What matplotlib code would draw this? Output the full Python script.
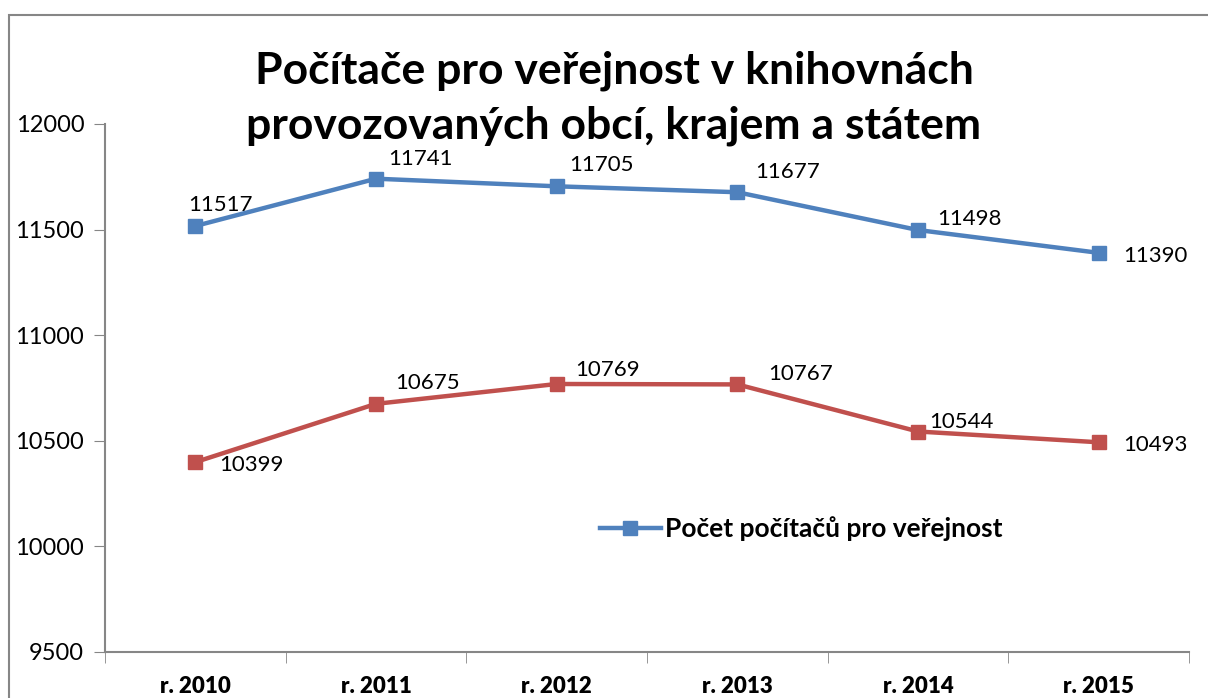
import numpy as np
import matplotlib
matplotlib.use('Agg')
import matplotlib.pyplot as plt
from matplotlib.patches import Rectangle

years = ['r. 2010', 'r. 2011', 'r. 2012', 'r. 2013', 'r. 2014', 'r. 2015']
verejnost = [11517, 11741, 11705, 11677, 11498, 11390]
druha = [10399, 10675, 10769, 10767, 10544, 10493]
yticks = [9500, 10000, 10500, 11000, 11500, 12000]

# label offsets in pixels (dx to left edge, dy up)
off_blue = [(-7, 21), (12, 20), (13, 21), (18, 20), (19, 11), (25, -3)]
off_red = [(24, -3), (19, 21), (19, 14), (31, 10), (11, 10), (25, -3)]

plt.rcParams['font.family'] = ['Lato', 'DejaVu Sans']

fig = plt.figure(figsize=(12.08, 6.98), dpi=100)
ax = fig.add_axes([105/1208, 46/698, (1189-105)/1208, (652-124)/698])

x = np.arange(len(years))
blue = '#4F81BD'
red = '#C0504D'
grey = '#868686'

ax.plot(x, verejnost, color=blue, lw=3.2, marker='s', ms=10, label='Počet počítačů pro veřejnost')
ax.plot(x, druha, color=red, lw=3.2, marker='s', ms=10)

for xi, v, (dx, dy) in zip(x, verejnost, off_blue):
    ax.annotate(str(v), (xi, v), xytext=(dx, dy), textcoords='offset pixels',
                ha='left', va='center', fontsize=16)
for xi, v, (dx, dy) in zip(x, druha, off_red):
    ax.annotate(str(v), (xi, v), xytext=(dx, dy), textcoords='offset pixels',
                ha='left', va='center', fontsize=16)

ax.set_xlim(-0.5, len(years) - 0.5)
ax.set_ylim(9500, 12000)
ax.set_yticks(yticks)
ax.set_yticklabels([str(t) for t in yticks], fontsize=17)
ax.set_xticks(x)
ax.set_xticklabels(years, fontsize=16, fontweight='heavy')
ax.set_xticks(np.arange(len(years) + 1) - 0.5, minor=True)
ax.tick_params(axis='x', which='major', length=0, pad=17)
ax.tick_params(axis='x', which='minor', length=8, color=grey, direction='out')
ax.tick_params(axis='y', length=8, color=grey, pad=7)

for s in ['top', 'right']:
    ax.spines[s].set_visible(False)
for s in ['left', 'bottom']:
    ax.spines[s].set_color(grey)
    ax.spines[s].set_linewidth(1.5)

leg = ax.legend(loc='center left', bbox_to_anchor=(600/1208, 1 - 529/698),
                bbox_transform=fig.transFigure, frameon=False,
                prop={'size': 19, 'weight': 'bold'}, handlelength=2.3,
                handletextpad=0.15, borderpad=0, borderaxespad=0)

fig.text(614/1208, 1 - 98/698, 'Počítače pro veřejnost v knihovnách\nprovozovaných obcí, krajem a státem',
         ha='center', va='center', fontsize=32, fontweight='bold', linespacing=1.45)

fig.patches.append(Rectangle((9/1208, -0.1), 1.2, 1 - 15/698 + 0.1, transform=fig.transFigure,
                             fill=False, edgecolor=grey, lw=1.5))

fig.savefig('out.png', dpi=100)
